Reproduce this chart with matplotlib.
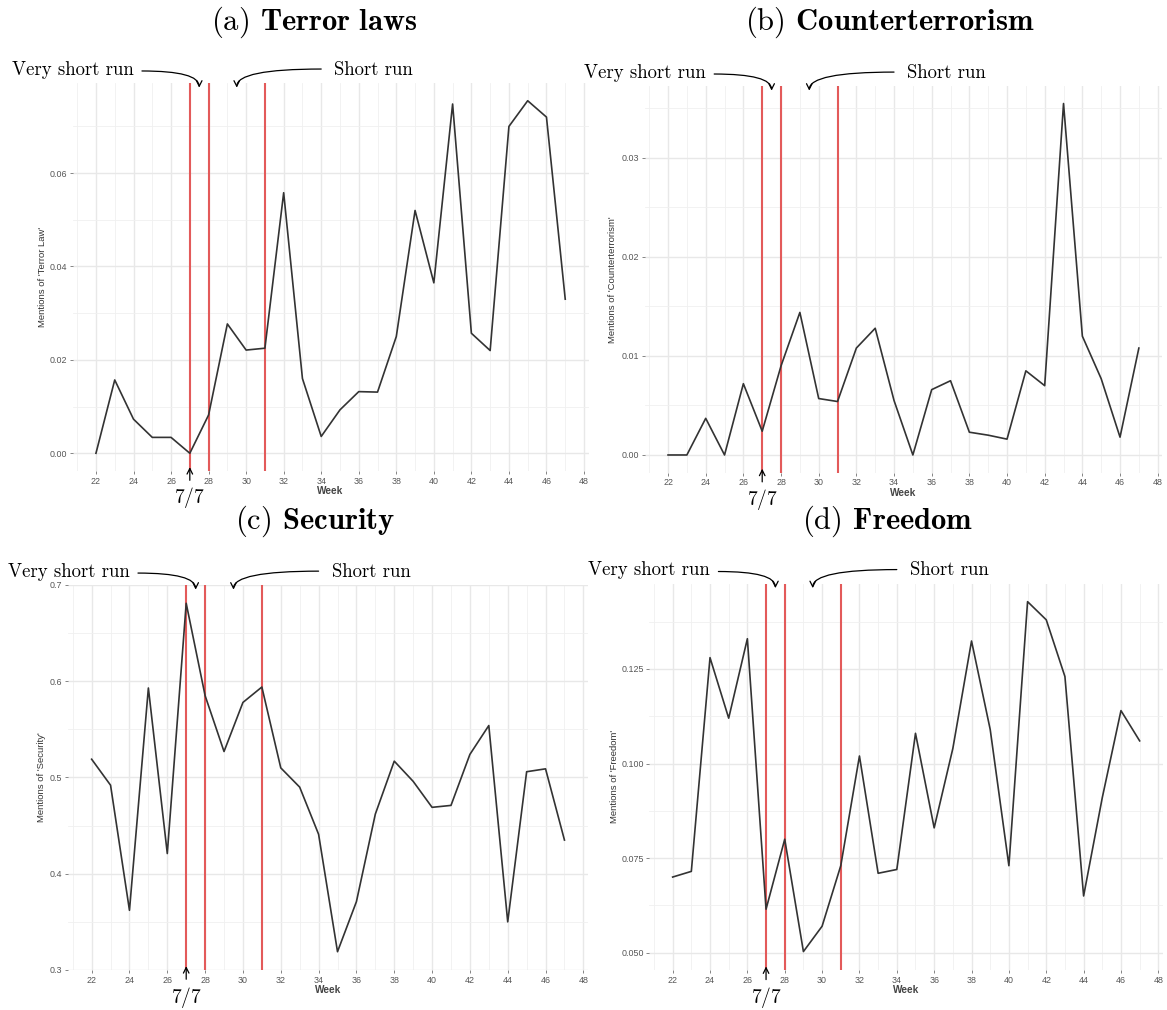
import matplotlib as mpl
mpl.use('Agg')
from matplotlib import pyplot as plt
from matplotlib.ticker import MultipleLocator, FormatStrFormatter

plt.rcParams['mathtext.fontset'] = 'cm'
plt.rcParams['axes.unicode_minus'] = False

W, H = 1167, 1010

weeks = list(range(22, 48))

terror_laws = [0.0, 0.0157, 0.0073, 0.0034, 0.0034, 0.0, 0.0082, 0.0277, 0.0221, 0.0225,
               0.0558, 0.016, 0.0036, 0.0093, 0.0132, 0.0131, 0.025, 0.052, 0.0365, 0.0748,
               0.0257, 0.022, 0.070, 0.0755, 0.072, 0.033]

counterterrorism = [0.0, 0.0, 0.0037, 0.0, 0.0072, 0.0024, 0.0090, 0.0144, 0.0057, 0.0054,
                    0.0108, 0.0128, 0.0055, 0.0, 0.0066, 0.0075, 0.0023, 0.0020, 0.0016, 0.0085,
                    0.0070, 0.0355, 0.0120, 0.0077, 0.0018, 0.0108]

security = [0.519, 0.492, 0.362, 0.593, 0.421, 0.681, 0.585, 0.527, 0.578, 0.594,
            0.510, 0.490, 0.441, 0.319, 0.371, 0.462, 0.517, 0.496, 0.469, 0.471,
            0.524, 0.554, 0.350, 0.506, 0.509, 0.435]

freedom = [0.070, 0.0715, 0.128, 0.112, 0.133, 0.0615, 0.080, 0.0503, 0.057, 0.073,
           0.102, 0.071, 0.072, 0.108, 0.083, 0.104, 0.1324, 0.109, 0.073, 0.1428,
           0.138, 0.123, 0.065, 0.091, 0.114, 0.106]

event_weeks = [27, 28, 31]   # red vertical lines
london_week = 27             # 7/7

panels = [
    # title, bold part, series, ylabel, box (left, top, right, bottom px), ylim, major, fmt, title xy
    ("(a) ", "Terror\\ laws", terror_laws, "Mentions of 'Terror Law'",
     (72.5, 83, 588.7, 471), (-0.0038, 0.0793), 0.02, '%.2f', (314, 22), -0.059),
    ("(b) ", "Counterterrorism", counterterrorism, "Mentions of 'Counterterrorism'",
     (644.5, 86, 1162.4, 472.6), (-0.00178, 0.03727), 0.01, '%.2f', (890, 22), -0.061),
    ("(c) ", "Security", security, "Mentions of 'Security'",
     (68, 585, 588.1, 970), (0.3, 0.7), 0.1, '%.1f', (315, 521), -0.05),
    ("(d) ", "Freedom", freedom, "Mentions of 'Freedom'",
     (649.3, 583.5, 1163, 970.3), (0.04535, 0.1476), 0.025, '%.3f', (888, 521), -0.067),
]

fig = plt.figure(figsize=(W / 100, H / 100), dpi=100)

arrow_kw = dict(arrowstyle='->,head_length=0.4,head_width=0.2', lw=0.9,
                color='black', shrinkA=0, shrinkB=0)

for pre, bold, vals, ylab, box, ylim, major, fmt, tpos, ylx in panels:
    l, t, r, b = box
    ax = fig.add_axes([l / W, 1 - b / H, (r - l) / W, (b - t) / H])
    ax.set_xlim(20.75, 48.25)
    ax.set_ylim(*ylim)
    for s in ax.spines.values():
        s.set_visible(False)
    ax.xaxis.set_major_locator(MultipleLocator(2))
    ax.xaxis.set_minor_locator(MultipleLocator(1))
    ax.yaxis.set_major_locator(MultipleLocator(major))
    ax.yaxis.set_minor_locator(MultipleLocator(major / 2))
    ax.yaxis.set_major_formatter(FormatStrFormatter(fmt))
    ax.grid(which='major', color='#e8e8e8', lw=1.0)
    ax.grid(which='minor', color='#f0f0f0', lw=0.6)
    ax.set_axisbelow(True)
    ax.tick_params(which='major', length=2, width=0.5, color='#555555',
                   labelsize=6.4, labelcolor='#555555', pad=2)
    ax.tick_params(which='minor', length=0)
    for lab in ax.get_xticklabels() + ax.get_yticklabels():
        lab.set_family('Liberation Sans')

    for wk in event_weeks:
        ax.axvline(wk, color='#e35a5a', lw=1.5, zorder=2)
    ax.plot(weeks, vals, color='#333333', lw=1.2, zorder=3)

    ax.set_xlabel("Week", fontsize=7.2, family='Liberation Sans', weight='bold',
                  color='#444444')
    ax.xaxis.set_label_coords(0.5, -20 / (b - t))
    ax.xaxis.label.set_va('center')
    ax.set_ylabel(ylab, fontsize=6.8, family='Liberation Sans', color='#333333')
    ax.yaxis.set_label_coords(ylx, 0.5)
    ax.yaxis.label.set_va('center')

    fig.text(tpos[0] / W, 1 - tpos[1] / H, pre + r"$\mathbf{" + bold + "}$",
             family='cmr10', fontsize=22, ha='center', va='center')

    # run annotations above the plot
    xt = ax.get_xaxis_transform()
    ax.text(24.0, 1.034, "Very short run", family='cmr10', fontsize=13.5,
            ha='right', va='center', transform=xt)
    ax.text(36.8, 1.034, "Short run", family='cmr10', fontsize=13.5,
            ha='center', va='center', transform=xt)
    ax.annotate('', xy=(27.5, 0.988), xytext=(24.45, 1.031),
                xycoords=xt, textcoords=xt,
                arrowprops=dict(connectionstyle='angle3,angleA=0,angleB=90', **arrow_kw),
                annotation_clip=False)
    ax.annotate('', xy=(29.5, 0.988), xytext=(34.0, 1.036),
                xycoords=xt, textcoords=xt,
                arrowprops=dict(connectionstyle='angle3,angleA=0,angleB=90', **arrow_kw),
                annotation_clip=False)

    # 7/7 marker below the axis
    ax.annotate('', xy=(london_week, 0.01), xytext=(london_week, -0.024),
                xycoords=xt, textcoords=xt, arrowprops=arrow_kw,
                annotation_clip=False)
    ax.text(london_week, -27 / (b - t), r"$7/7$", fontsize=14,
            ha='center', va='center', transform=xt)

plt.savefig("out.png", dpi=100)
